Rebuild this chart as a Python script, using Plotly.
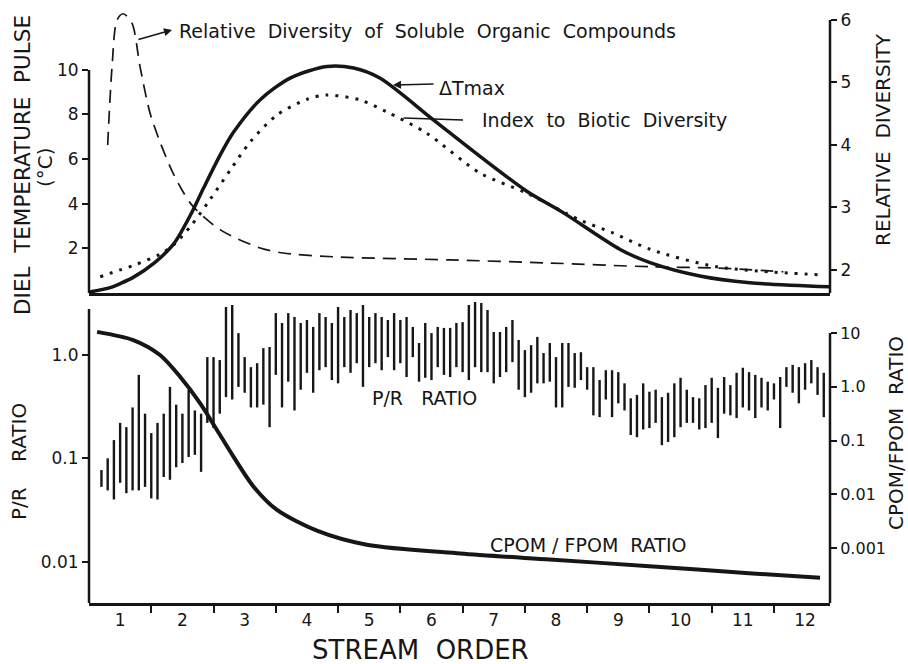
import plotly.graph_objects as go

# ---------------- data ----------------
# Top panel: diel temperature pulse, delta T max (deg C, left axis)
dt_order = [0.50, 0.84, 1.00, 1.21, 1.55, 1.86, 2.15, 2.34, 2.61, 2.82, 3.25, 3.73, 4.32,
            4.75, 5.17, 6.03, 6.78, 7.53, 8.12, 9.03, 9.51, 10.31, 11.11, 12.40]
dt_val = [0.04, 0.24, 0.42, 0.70, 1.35, 2.2, 3.6, 4.7, 6.2, 7.2, 8.66, 9.63, 10.15,
          10.08, 9.63, 7.76, 6.12, 4.56, 3.59, 1.95, 1.36, 0.76, 0.46, 0.28]

# Index to biotic diversity (right axis, relative diversity)
bio_order = [0.68, 1.00, 1.21, 1.64, 1.86, 2.15, 2.44, 2.77, 3.09, 3.52, 4.00, 4.32,
             4.85, 5.28, 5.92, 6.78, 7.53, 8.38, 8.92, 9.51, 10.58, 12.28]
bio_val = [1.89, 2.00, 2.07, 2.25, 2.40, 2.72, 3.12, 3.60, 4.05, 4.48, 4.73, 4.80,
           4.72, 4.53, 4.19, 3.55, 3.23, 2.80, 2.59, 2.33, 2.05, 1.92]

# Relative diversity of soluble organic compounds (right axis)
sol_order = [0.80, 0.87, 0.95, 1.05, 1.19, 1.32, 1.48, 1.64, 1.85, 2.15, 2.61, 3.25, 3.62,
             4.42, 6.30, 7.90, 9.51, 10.58, 11.65]
sol_val = [4.0, 5.25, 6.0, 6.10, 5.95, 5.25, 4.51, 4.05, 3.55, 3.04, 2.64, 2.35, 2.27,
           2.21, 2.16, 2.11, 2.05, 2.03, 1.97]

# Bottom panel: CPOM/FPOM ratio (right log axis)
cp_order = [0.63, 1.21, 1.64, 1.96, 2.28, 2.55, 2.82, 3.14, 3.52, 4.16, 4.96, 6.46, 7.90,
            9.50, 11.10, 12.24]
cp_val = [10.5, 7.4, 3.9, 1.55, 0.5, 0.16, 0.05, 0.014, 0.0051, 0.0021, 0.00115, 0.00079,
          0.00061, 0.00046, 0.00034, 0.00028]

# P/R ratio band (left log axis): low / high of each vertical stroke
pr_order = [0.7, 0.8, 0.9, 1.0, 1.1, 1.2, 1.3, 1.4, 1.5, 1.6, 1.7, 1.8, 1.9, 2.0, 2.1, 2.2,
            2.3, 2.4, 2.5, 2.6, 2.7, 2.8, 2.9, 3.0, 3.1, 3.2, 3.3, 3.4, 3.5, 3.6, 3.7, 3.8,
            3.9, 4.0, 4.1, 4.2, 4.3, 4.4, 4.5, 4.6, 4.7, 4.8, 4.9, 5.0, 5.1, 5.2, 5.3, 5.4,
            5.5, 5.6, 5.7, 5.8, 5.9, 6.0, 6.1, 6.2, 6.3, 6.4, 6.5, 6.6, 6.7, 6.8, 6.9, 7.0,
            7.1, 7.2, 7.3, 7.4, 7.5, 7.6, 7.7, 7.8, 7.9, 8.0, 8.1, 8.2, 8.3, 8.4, 8.5, 8.6,
            8.7, 8.8, 8.9, 9.0, 9.1, 9.2, 9.3, 9.4, 9.5, 9.6, 9.7, 9.8, 9.9, 10.0, 10.1, 10.2,
            10.3, 10.4, 10.5, 10.6, 10.7, 10.8, 10.9, 11.0, 11.1, 11.2, 11.3, 11.4, 11.5,
            11.6, 11.7, 11.8, 11.9, 12.0, 12.1, 12.2, 12.3]
pr_high = [0.077, 0.10, 0.15, 0.22, 0.20, 0.31, 0.64, 0.27, 0.175, 0.22, 0.27, 0.49, 0.33,
           0.27, 0.46, 0.29, 0.27, 0.95, 0.95, 0.89, 2.90, 3.03, 1.62, 0.95, 0.76, 0.83,
           1.16, 1.19, 2.53, 2.03, 2.53, 2.32, 2.03, 2.17, 1.86, 2.53, 2.32, 2.03, 2.90,
           2.32, 2.71, 2.53, 3.03, 2.32, 2.53, 2.32, 2.17, 2.53, 2.17, 2.32, 1.86, 1.30,
           2.03, 1.62, 1.86, 1.82, 1.82, 2.03, 2.07, 3.03, 3.24, 3.17, 2.71, 1.66, 1.66,
           1.86, 2.17, 1.39, 1.11, 1.24, 1.49, 1.04, 1.30, 0.95, 1.30, 1.30, 1.04, 1.06,
           0.76, 0.76, 0.57, 0.71, 0.71, 0.68, 0.53, 0.38, 0.41, 0.53, 0.44, 0.46, 0.39,
           0.43, 0.53, 0.60, 0.46, 0.39, 0.38, 0.51, 0.60, 0.48, 0.61, 0.51, 0.67, 0.75,
           0.68, 0.64, 0.60, 0.55, 0.53, 0.61, 0.76, 0.80, 0.76, 0.83, 0.89, 0.76, 0.67]
pr_low = [0.053, 0.049, 0.040, 0.058, 0.046, 0.049, 0.049, 0.053, 0.041, 0.040, 0.066,
          0.062, 0.082, 0.090, 0.103, 0.108, 0.074, 0.22, 0.196, 0.27, 0.39, 0.37, 0.49,
          0.43, 0.31, 0.31, 0.33, 0.20, 0.64, 0.31, 0.55, 0.29, 0.46, 0.67, 0.43, 0.71,
          0.76, 0.57, 0.53, 0.76, 0.67, 0.83, 0.49, 0.76, 0.83, 0.71, 0.95, 0.71, 0.83,
          0.61, 0.95, 0.55, 0.60, 0.57, 0.76, 0.64, 0.61, 0.76, 0.68, 0.57, 0.76, 0.68,
          0.68, 0.53, 0.61, 0.68, 0.85, 0.46, 0.39, 0.43, 0.53, 0.53, 0.55, 0.31, 0.31,
          0.49, 0.48, 0.57, 0.46, 0.26, 0.25, 0.37, 0.25, 0.34, 0.29, 0.168, 0.16, 0.19,
          0.196, 0.22, 0.134, 0.144, 0.16, 0.20, 0.22, 0.22, 0.19, 0.196, 0.22, 0.157,
          0.27, 0.26, 0.245, 0.31, 0.29, 0.245, 0.31, 0.29, 0.37, 0.196, 0.49, 0.43, 0.34,
          0.46, 0.53, 0.41, 0.25]

x_labels = ["1", "2", "3", "4", "5", "6", "7", "8", "9", "10", "11", "12"]
x_label_pos = [1, 2, 3, 4, 5, 6, 7, 8, 9, 10, 11, 12]
x_tick_pos = [1.5, 2.5, 3.5, 4.5, 5.5, 6.5, 7.5, 8.5, 9.5, 10.5, 11.5]

# ---------------- figure ----------------
W, H = 908, 664
INK = "#161616"
FONT = "DejaVu Sans"
NB = "\u00a0"

def px(x):
    return x / W

def py(y):
    return 1 - y / H

fig = go.Figure()

fig.add_trace(go.Scatter(x=dt_order, y=dt_val, mode="lines", xaxis="x", yaxis="y",
                         line=dict(color=INK, width=3.5, shape="spline", smoothing=0.8)))
fig.add_trace(go.Scatter(x=bio_order, y=bio_val, mode="lines", xaxis="x", yaxis="y2",
                         line=dict(color=INK, width=3, dash="3px,7px", shape="spline",
                                   smoothing=0.8)))
fig.add_trace(go.Scatter(x=sol_order, y=sol_val, mode="lines", xaxis="x", yaxis="y2",
                         line=dict(color=INK, width=1.7, dash="13px,8px", shape="spline",
                                   smoothing=0.8)))

bx, by = [], []
for o, lo, hi in zip(pr_order, pr_low, pr_high):
    bx += [o, o, None]
    by += [lo, hi, None]
fig.add_trace(go.Scatter(x=bx, y=by, mode="lines", xaxis="x2", yaxis="y3",
                         line=dict(color=INK, width=2.4), connectgaps=False))

fig.add_trace(go.Scatter(x=cp_order, y=cp_val, mode="lines", xaxis="x2", yaxis="y4",
                         line=dict(color=INK, width=4, shape="spline", smoothing=0.8)))

xdom = [px(89), px(830)]
top_dom = [py(293), py(10)]
bot_dom = [py(603), py(298)]
xr = [0.50, 12.40]
tickfont = dict(family=FONT, size=17, color=INK)
common = dict(showgrid=False, zeroline=False, automargin=False)

fig.update_layout(
    width=W, height=H, margin=dict(l=0, r=0, t=0, b=0, autoexpand=False),
    paper_bgcolor="white", plot_bgcolor="white", showlegend=False,
    font=dict(family=FONT, color=INK),
    xaxis=dict(domain=xdom, range=xr, anchor="y", showticklabels=False, ticks="",
               showline=True, linecolor=INK, linewidth=2.5, **common),
    yaxis=dict(domain=top_dom, range=[0, 12.68], anchor="x",
               tickvals=[2, 4, 6, 8, 10], ticks="outside", ticklen=6, tickwidth=2,
               tickcolor=INK, tickfont=tickfont, showline=False, **common),
    yaxis2=dict(domain=top_dom, range=[1.63, 6.16], overlaying="y", side="right",
                anchor="x", tickvals=[2, 3, 4, 5, 6],
                ticks="outside", ticklen=6, tickwidth=2, tickcolor=INK, tickfont=tickfont,
                showline=False, **common),
    xaxis2=dict(domain=xdom, range=xr, anchor="y3",
                tickvals=x_label_pos, ticktext=x_labels, ticks="", tickfont=tickfont,
                showline=True, linecolor=INK, linewidth=2.5,
                minor=dict(tickvals=x_tick_pos, ticks="outside", ticklen=7, tickwidth=2,
                           tickcolor=INK, showgrid=False), **common),
    yaxis3=dict(domain=bot_dom, type="log", range=[-2.398, 0.549], anchor="x2",
                tickvals=[1, 0.1, 0.01],
                ticktext=["1.0", "0.1", "0.01"], ticks="outside", ticklen=6, tickwidth=2,
                tickcolor=INK, tickfont=tickfont, showline=False, **common),
    yaxis4=dict(domain=bot_dom, type="log", range=[-4.023, 1.651], overlaying="y3",
                side="right", anchor="x2",
                tickvals=[10, 1, 0.1, 0.01, 0.001],
                ticktext=["10", "1.0", "0.1", "0.01", "0.001"], ticks="outside", ticklen=6,
                tickwidth=2, tickcolor=INK, tickfont=dict(family=FONT, size=16, color=INK),
                showline=False, **common),
)

# axis lines that do not span the full panel height
fig.add_shape(type="line", xref="x domain", yref="y domain", x0=0, x1=0,
              y0=0, y1=(293 - 70) / 283, line=dict(color=INK, width=2.5))
fig.add_shape(type="line", xref="x domain", yref="y domain", x0=1, x1=1,
              y0=0, y1=(293 - 20) / 283, line=dict(color=INK, width=2.5))
fig.add_shape(type="line", xref="x2 domain", yref="y3 domain", x0=0, x1=0,
              y0=0, y1=(603 - 309) / 305, line=dict(color=INK, width=2.5))
fig.add_shape(type="line", xref="x2 domain", yref="y3 domain", x0=1, x1=1,
              y0=0, y1=(603 - 333) / 305, line=dict(color=INK, width=2.5))

def txt(text, x, y, size, angle=0, xanchor="center"):
    fig.add_annotation(text=text, x=px(x), y=py(y), xref="paper", yref="paper",
                       showarrow=False, textangle=angle, xanchor=xanchor, yanchor="middle",
                       font=dict(family=FONT, size=size, color=INK))

# axis titles
txt("DIEL" + NB + " TEMPERATURE" + NB + " PULSE", 22, 165, 21.5, -90)
txt("(°C)", 45, 167, 20, -90)
txt("P/R" + NB + NB + NB + " RATIO", 19, 462, 20, -90)
txt("RELATIVE" + NB + " DIVERSITY", 883, 140, 20, -90)
txt("CPOM/FPOM" + NB + " RATIO", 896, 433, 20, -90)
txt("STREAM" + NB + " ORDER", 420, 650, 26)

# in-panel labels
sp = NB + " "
txt(sp.join(["Relative", "Diversity", "of", "Soluble", "Organic", "Compounds"]),
    177, 31, 19, xanchor="left")
txt("ΔTmax", 437, 88, 19, xanchor="left")
txt(sp.join(["Index", "to", "Biotic", "Diversity"]), 480, 120, 19, xanchor="left")
txt("P/R" + NB + NB + " RATIO", 370, 398, 19, xanchor="left")
txt("CPOM" + NB + "/" + NB + "FPOM" + NB + " RATIO", 488, 545, 19, xanchor="left")

# leader lines
def leader(hx, hy, tx, ty, head):
    fig.add_annotation(text="", x=px(hx), y=py(hy), xref="paper", yref="paper",
                       ax=tx - hx, ay=ty - hy, showarrow=True, arrowhead=head,
                       arrowsize=1, arrowwidth=1.6, arrowcolor=INK)

leader(172, 30, 137, 40, 2)
leader(393, 85, 435, 84, 2)
leader(463, 120, 402, 118, 0)

# the page's default body margin would shift the figure by 8 px
fig.write_html("out.html", config={"displayModeBar": False},
               post_script="document.body.style.margin='0px';"
                           "document.body.style.overflow='hidden';")
